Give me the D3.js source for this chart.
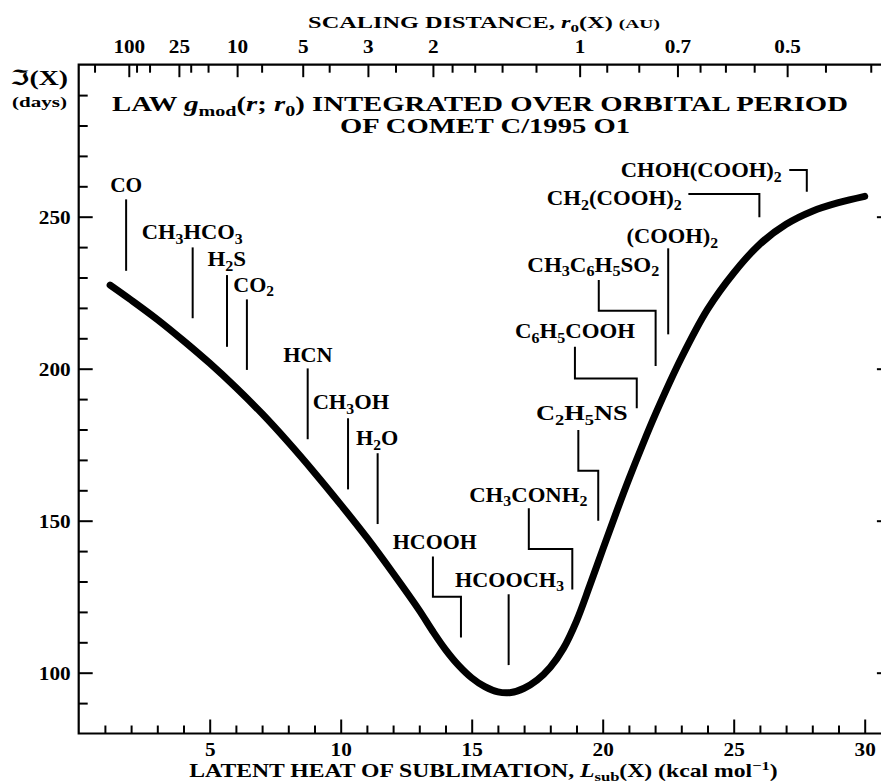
<!DOCTYPE html>
<html>
<head>
<meta charset="utf-8">
<script src="https://cdn.jsdelivr.net/npm/d3@7"></script>
<style>
  body { margin: 0; background: #fff; overflow: hidden; }
  svg { display: block; }
  svg text { font-family: "Liberation Serif", "DejaVu Serif", "DejaVu Sans", serif; font-weight: bold; white-space: pre; fill: #000; }
</style>
</head>
<body>
<div id="chart"></div>
<script>
// curve: latent heat (kcal/mol) -> integrated law (days)
const latentHeat = [1.2, 2, 3, 4, 5, 6, 7, 8, 9, 10, 11, 12, 13, 13.5, 14, 14.5, 15, 15.5, 16, 16.5, 17, 17.5, 18, 18.5,
  19, 19.5, 20, 20.5, 21, 21.5, 22, 23, 24, 25, 26, 27, 28, 29, 30];
const days = [227.5, 222.6, 216.2, 209.2, 201.8, 193.8, 185.2, 175.8, 165.8, 155.3, 144.4, 132.7, 120.5, 113.8, 107.6, 102.4,
  98.3, 95.4, 93.7, 93.5, 94.9, 97.6, 101.8, 108, 117, 128.5, 140.5, 152.3, 163.7, 174.5, 184.8, 203.5, 219.5, 231.5,
  241, 247.5, 251.8, 254.6, 256.7];

// molecules and their latent heats
const molecules = ["CO", "CH3HCO3", "H2S", "CO2", "HCN", "CH3OH", "H2O", "HCOOH", "HCOOCH3", "CH3CONH2",
  "C2H5NS", "C6H5COOH", "CH3C6H5SO2", "(COOH)2", "CH2(COOH)2", "CHOH(COOH)2"];
const moleculeHeat = [1.81, 4.35, 5.66, 6.42, 8.74, 10.28, 11.41, 14.59, 16.41, 18.84, 19.83, 21.3, 22.02, 22.5, 25.98, 27.79];

// axis ticks
const heatMajor = [5, 10, 15, 20, 25, 30];
const dayMajor = [100, 150, 200, 250];
const r0Major = [100, 25, 10, 5, 3, 2, 1, 0.7, 0.5];
const r0Minor = [1000, 75, 50, 20, 15, 7.5, 4, 2.5, 1.8, 1.6, 1.4, 1.2, 0.9, 0.8, 0.65, 0.6, 0.55, 0.45, 0.4];
const heatAt1AU = 19.12; // L where r0 = 1 AU, r0 ~ L^-2

// label placement (data units): kind, label centre, baseline, leader top, bend, end, leader x, width px
const labelLayout = [
  { k: "v", cx: 1.81, base: 258.2, top: 255.7, tip: 232.2, w: 32 },
  { k: "v", cx: 4.33, base: 242.7, top: 239.9, tip: 216.6, w: 101 },
  { k: "v", cx: 5.65, base: 233.8, top: 230.8, tip: 207.2, w: 38.7 },
  { k: "v", cx: 6.68, base: 225.3, top: 222.8, tip: 199.6, w: 40.7 },
  { k: "v", cx: 8.75, base: 202.3, top: 200.1, tip: 176.8, w: 49.4 },
  { k: "v", cx: 10.39, base: 186.7, top: 183.7, tip: 160.3, w: 76.6 },
  { k: "v", cx: 11.39, base: 174.9, top: 172.2, tip: 148.9, w: 42.3 },
  { k: "z", cx: 13.59, lx: 13.52, base: 140.7, top: 138.2, bend: 125.0, tip: 111.6, w: 84 },
  { k: "v", cx: 16.44, base: 128.3, top: 125.8, tip: 102.5, w: 109 },
  { k: "z", cx: 17.16, lx: 17.18, base: 156.2, top: 154.1, bend: 140.7, tip: 127.4, w: 118.3 },
  { k: "z", cx: 19.2, lx: 19.07, base: 183.1, top: 179.8, bend: 166.4, tip: 150, w: 91.7 },
  { k: "z", cx: 18.94, lx: 18.94, base: 210, top: 207.2, bend: 196.8, tip: 187, w: 120 },
  { k: "z", cx: 19.64, lx: 19.85, base: 231.9, top: 229.2, bend: 219.1, tip: 200.9, w: 132 },
  { k: "v", cx: 22.66, base: 241.2, top: 239.6, tip: 211.3, w: 91.6 },
  { k: "h", cx: 20.44, lx: 23.27, base: 253.8, bend: 257.5, tip: 249.8, w: 135 },
  { k: "h", cx: 23.76, lx: 27.12, base: 263, bend: 265.4, tip: 258.2, w: 161 }
];

const W = 881, H = 783;
const svg = d3.select("#chart").append("svg").attr("width", W).attr("height", H);

const x = d3.scaleLinear().domain([0, 31]).range([78.7, 890.9]);
const y = d3.scaleLinear().domain([80, 300]).range([733.5, 64.7]);
// r0 -> position on the same pixel range, through L = heatAt1AU / sqrt(r0)
const xr = d3.scalePow().exponent(-0.5).domain([1, 0.25]).range([x(heatAt1AU), x(2 * heatAt1AU)]);

function rich(parent, parts, px, py, size, width, anchor = "middle") {
  const g = parent.append("g").attr("transform", `translate(${px},${py})`);
  const t = g.append("text").attr("text-anchor", anchor).attr("font-size", size);
  let shift = 0;
  parts.forEach(([s, kind]) => {
    const off = kind === "sub" ? size * 0.22 : kind === "sup" ? -size * 0.38 : 0;
    const ts = t.append("tspan").text(s).attr("dy", off - shift);
    shift = off;
    if (kind === "sub" || kind === "sup") ts.attr("font-size", size * 0.7);
    if (kind === "sm") ts.attr("font-size", size * 0.8);
    if (kind === "i") ts.attr("font-style", "italic");
  });
  if (width) {
    const w = t.node().getBBox().width;
    t.attr("transform", `scale(${width / w},1)`);
  }
  return g;
}

function formula(name) {
  return name.split(/(\d+)/).filter(s => s).map(s => [s, /^\d+$/.test(s) ? "sub" : "n"]);
}

function styleTicks(g, dx, dy) {
  g.select(".domain").remove();
  g.selectAll(".tick line").attr("stroke", "#000").attr("stroke-width", 2);
  g.selectAll(".tick text")
    .attr("x", null).attr("y", null).attr("dy", null)
    .attr("transform", `translate(${dx},${dy}) scale(1.18,1)`)
    .style("font-size", "18px");
}

// bottom axis
svg.append("g").attr("transform", `translate(0,${y(80)})`)
  .call(d3.axisBottom(x).tickValues(d3.range(1, 31).filter(v => v % 5)).tickSize(-8).tickFormat(""))
  .call(g => styleTicks(g, 0, 0));
svg.append("g").attr("transform", `translate(0,${y(80)})`)
  .call(d3.axisBottom(x).tickValues(heatMajor).tickSize(-14).tickFormat(d3.format("d")))
  .call(g => styleTicks(g, 0, 22));

// left / right axes
const dayMinor = d3.range(90, 300, 10).filter(v => v % 50);
svg.append("g").attr("transform", `translate(${x(0)},0)`)
  .call(d3.axisLeft(y).tickValues(dayMinor).tickSize(-9).tickFormat(""))
  .call(g => styleTicks(g, 0, 0));
svg.append("g").attr("transform", `translate(${x(0)},0)`)
  .call(d3.axisLeft(y).tickValues(dayMajor).tickSize(-14).tickFormat(d3.format("d")))
  .call(g => styleTicks(g, -8, 6.5));
svg.append("g").attr("transform", `translate(${x(31)},0)`)
  .call(d3.axisRight(y).tickValues(dayMinor).tickSize(-9).tickFormat(""))
  .call(g => styleTicks(g, 0, 0));
svg.append("g").attr("transform", `translate(${x(31)},0)`)
  .call(d3.axisRight(y).tickValues(dayMajor).tickSize(-14).tickFormat(""))
  .call(g => styleTicks(g, 0, 0));

// top axis: scaling distance
svg.append("g").attr("transform", `translate(0,${y(300)})`)
  .call(d3.axisTop(xr).tickValues(r0Minor).tickSize(-8).tickFormat(""))
  .call(g => styleTicks(g, 0, 0));
svg.append("g").attr("transform", `translate(0,${y(300)})`)
  .call(d3.axisTop(xr).tickValues(r0Major).tickSize(-12.5).tickFormat(d => String(d)))
  .call(g => styleTicks(g, 0, -11.5));

// frame (the right side lies beyond the picture)
svg.append("path")
  .attr("d", `M${x(31)},${y(300)}H${x(0)}V${y(80)}H${x(31)}`)
  .attr("fill", "none").attr("stroke", "#000").attr("stroke-width", 2.2);

// curve
const pts = latentHeat.map((L, i) => [L, days[i]]);
svg.append("path")
  .datum(pts)
  .attr("fill", "none").attr("stroke", "#000").attr("stroke-width", 7)
  .attr("stroke-linecap", "round").attr("stroke-linejoin", "round")
  .attr("d", d3.line().x(d => x(d[0])).y(d => y(d[1])).curve(d3.curveCatmullRom));

// molecule labels and leaders
const leader = d3.line().x(d => x(d[0])).y(d => y(d[1]));
molecules.forEach((m, i) => {
  const p = labelLayout[i];
  const L = moleculeHeat[i];
  rich(svg, formula(m), x(p.cx), y(p.base), 21, p.w);
  let path;
  if (p.k === "v") path = [[L, p.top], [L, p.tip]];
  else if (p.k === "z") path = [[p.lx, p.top], [p.lx, p.bend], [L, p.bend], [L, p.tip]];
  else path = [[p.lx, p.bend], [L, p.bend], [L, p.tip]];
  svg.append("path").attr("d", leader(path))
    .attr("fill", "none").attr("stroke", "#000").attr("stroke-width", 2)
    .attr("stroke-linejoin", "miter").attr("stroke-linecap", "butt");
});

// titles
rich(svg, [["LAW ", "n"], ["g", "i"], ["mod", "sub"], ["(", "n"], ["r", "i"], ["; ", "n"], ["r", "i"], ["0", "sub"],
  [") INTEGRATED OVER ORBITAL PERIOD", "n"]], 480, 111, 21, 736);
rich(svg, [["OF COMET C/1995 O1", "n"]], 485, 133, 21, 290);
rich(svg, [["SCALING DISTANCE, ", "n"], ["r", "i"], ["0", "sub"], ["(X) ", "n"], ["(AU)", "sm"]], 484, 28, 16, 352);
rich(svg, [["LATENT HEAT OF SUBLIMATION, ", "n"], ["L", "i"], ["sub", "sub"], ["(X) (kcal mol", "n"], ["\u22121", "sup"], [")", "n"]],
  483.5, 777, 18, 589);
rich(svg, [["\u2111(X)", "n"]], 10, 85, 21, 58, "start");
rich(svg, [["(days)", "n"]], 12, 107, 15, 55, "start");
</script>
</body>
</html>
